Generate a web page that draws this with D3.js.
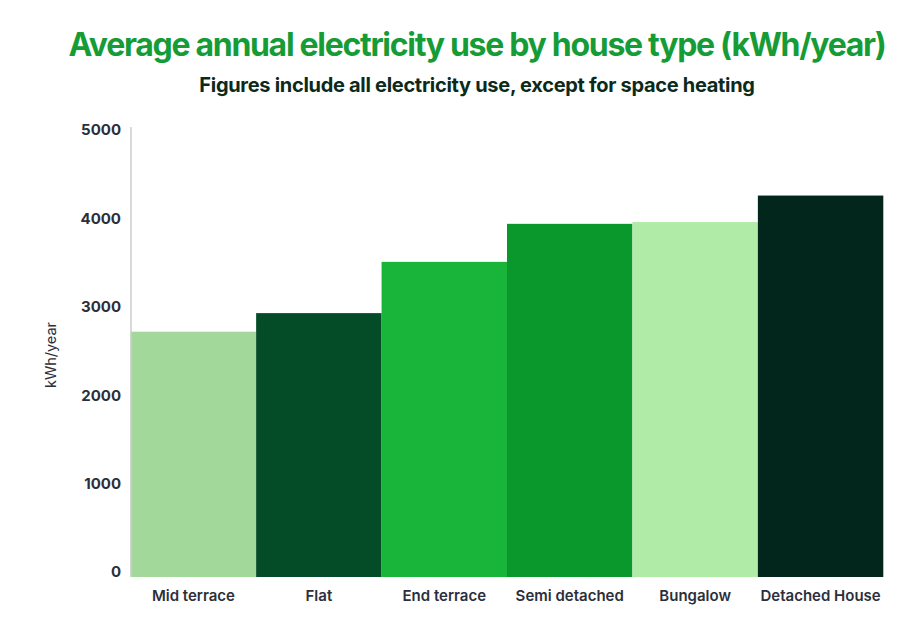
<!DOCTYPE html>
<html><head><meta charset="utf-8">
<script src="https://cdn.jsdelivr.net/npm/d3@7"></script>
<style>body{margin:0;background:#fff;} svg{display:block;}</style>
</head><body>
<svg id="c" width="915" height="617"></svg>
<script>
const categories = ["Mid terrace","Flat","End terrace","Semi detached","Bungalow","Detached House"];
const values = [2775, 2985, 3565, 3995, 4015, 4315];
const colors = ["#a2d89a","#044c28","#19b43a","#0a972b","#b0eba8","#02261b"];
const yTicks = [0,1000,2000,3000,4000,5000];
const title = "Average annual electricity use by house type (kWh/year)";
const subtitle = "Figures include all electricity use, except for space heating";
const yLabel = "kWh/year";

const svg = d3.select("#c");
const x = d3.scaleBand().domain(categories).range([130.7, 883.3]).padding(0);
const y = d3.scaleLinear().domain([0,5000]).range([577,135]);
const font = "Inter, 'Noto Sans', sans-serif";

svg.append("text").attr("x",477).attr("y",56).attr("text-anchor","middle")
  .attr("font-family",font).attr("font-weight",700).attr("font-size",32)
  .attr("letter-spacing","-1.3").attr("fill","#159c36").text(title);
svg.append("text").attr("x",477).attr("y",92).attr("text-anchor","middle")
  .attr("font-family",font).attr("font-weight",700).attr("font-size",20)
  .attr("letter-spacing","-0.3").attr("fill","#0c2a1a").text(subtitle);

svg.append("g").selectAll("rect").data(values).join("rect")
  .attr("x",(d,i)=>x(categories[i])).attr("width",x.bandwidth())
  .attr("y",d=>y(d)).attr("height",d=>y(0)-y(d))
  .attr("fill",(d,i)=>colors[i]);

svg.append("line").attr("x1",131).attr("x2",131).attr("y1",127).attr("y2",577)
  .attr("stroke","#cccccc").attr("stroke-width",1.5);

const ya = svg.append("g").attr("transform","translate(131,0)")
  .call(d3.axisLeft(y).tickValues(yTicks).tickSize(0).tickPadding(10).tickFormat(d3.format("d")));
ya.select(".domain").remove();
ya.selectAll("text").attr("font-family",font).attr("font-weight",700).attr("font-size",15)
  .attr("fill","#2c2f3b").attr("dy","0.32em").attr("transform","translate(0,-5)");

const xa = svg.append("g").attr("transform","translate(0,577)")
  .call(d3.axisBottom(x).tickSize(0).tickPadding(13));
xa.select(".domain").remove();
xa.selectAll("text").attr("font-family",font).attr("font-weight",600).attr("font-size",15)
  .attr("fill","#2c2f3b");

svg.append("text").attr("transform","translate(56,355) rotate(-90)").attr("text-anchor","middle")
  .attr("font-family",font).attr("font-size",14.5).attr("fill","#2c2f3b").text(yLabel);
</script>
</body></html>
